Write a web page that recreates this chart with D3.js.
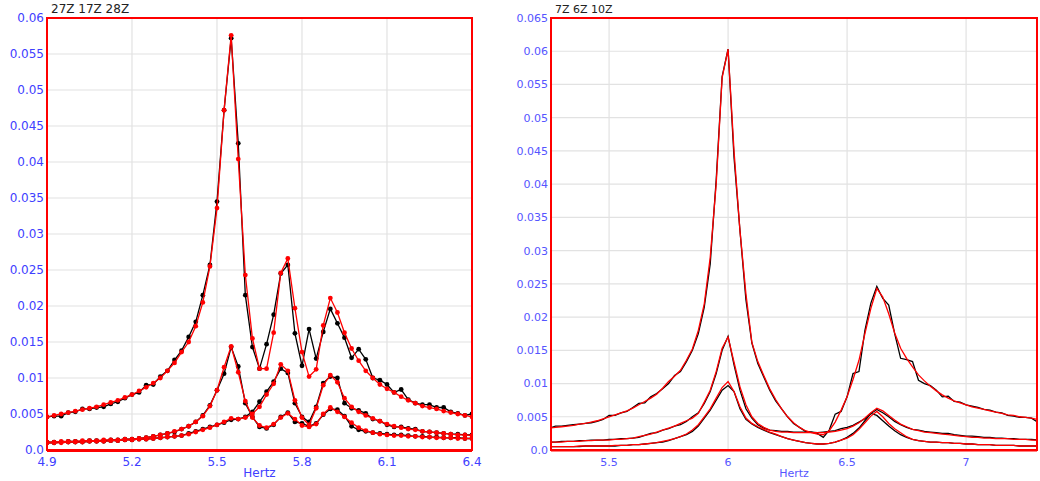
<!DOCTYPE html>
<meta charset="utf-8">
<head>
  <title>Spectra</title>
  <script src="https://d3js.org/d3.v7.min.js"></script>
  <style>
    body { margin: 0; background: #fff; }
    .grid line { stroke: #e2e2e2; stroke-width: 1.2px; }
    .tick-label { fill: #4040ff; font-family: "DejaVu Sans", sans-serif; }
    .title { fill: #222; font-family: "DejaVu Sans", sans-serif; }
  </style>
</head>
<body>
<div id="chart"></div>
<script>

// ---------- left panel: 27Z 17Z 28Z ----------
var freqL = [4.9, 4.925, 4.95, 4.975, 5.0, 5.025, 5.05, 5.075, 5.1, 5.125,
  5.15, 5.175, 5.2, 5.225, 5.25, 5.275, 5.3, 5.325, 5.35, 5.375,
  5.4, 5.425, 5.45, 5.475, 5.5, 5.525, 5.55, 5.575, 5.6, 5.625,
  5.65, 5.675, 5.7, 5.725, 5.75, 5.775, 5.8, 5.825, 5.85, 5.875,
  5.9, 5.925, 5.95, 5.975, 6.0, 6.025, 6.05, 6.075, 6.1, 6.125,
  6.15, 6.175, 6.2, 6.225, 6.25, 6.275, 6.3, 6.325, 6.35, 6.375, 6.4];

var aBlackL = [0.0046, 0.0047, 0.0047, 0.0052, 0.0053, 0.0057, 0.0057, 0.0059, 0.0060, 0.0064,
  0.0067, 0.0072, 0.0077, 0.0080, 0.0090, 0.0091, 0.0102, 0.0110, 0.0125, 0.0138,
  0.0157, 0.0178, 0.0215, 0.0257, 0.0345, 0.0472, 0.0572, 0.0426, 0.0215, 0.0143,
  0.0113, 0.0147, 0.0188, 0.0245, 0.0257, 0.0162, 0.0117, 0.0168, 0.0127, 0.0164,
  0.0196, 0.0176, 0.0156, 0.0128, 0.0140, 0.0126, 0.0100, 0.0097, 0.0091, 0.0080,
  0.0084, 0.0070, 0.0065, 0.0063, 0.0063, 0.0059, 0.0059, 0.0053, 0.0051, 0.0048, 0.0050];
var aRedL = [0.0046, 0.0048, 0.0050, 0.0052, 0.0054, 0.0056, 0.0058, 0.0060, 0.0063, 0.0066,
  0.0069, 0.0073, 0.0077, 0.0082, 0.0087, 0.0093, 0.0100, 0.0110, 0.0121, 0.0136,
  0.0150, 0.0172, 0.0205, 0.0255, 0.0336, 0.0472, 0.0576, 0.0404, 0.0243, 0.0155,
  0.0113, 0.0113, 0.0163, 0.0246, 0.0266, 0.0197, 0.0136, 0.0102, 0.0112, 0.0173,
  0.0211, 0.0191, 0.0163, 0.0141, 0.0124, 0.0110, 0.0100, 0.0091, 0.0085, 0.0080,
  0.0074, 0.0069, 0.0065, 0.0061, 0.0059, 0.0057, 0.0054, 0.0052, 0.0050, 0.0048, 0.0046];
var bBlackL = [0.0011, 0.0011, 0.0011, 0.0012, 0.0012, 0.0012, 0.0013, 0.0013, 0.0013, 0.0014,
  0.0014, 0.0015, 0.0015, 0.0016, 0.0017, 0.0019, 0.0021, 0.0023, 0.0025, 0.0029,
  0.0033, 0.0039, 0.0048, 0.0062, 0.0083, 0.0106, 0.0143, 0.0116, 0.0065, 0.0046,
  0.0032, 0.0030, 0.0035, 0.0046, 0.0052, 0.0039, 0.0037, 0.0033, 0.0037, 0.0049,
  0.0057, 0.0056, 0.0047, 0.0033, 0.0028, 0.0026, 0.0024, 0.0023, 0.0022, 0.0021,
  0.0021, 0.0020, 0.0019, 0.0019, 0.0018, 0.0018, 0.0017, 0.0017, 0.0017, 0.0016, 0.0016];
var bRedL = [0.0011, 0.0011, 0.0012, 0.0012, 0.0012, 0.0013, 0.0013, 0.0013, 0.0014, 0.0014,
  0.0014, 0.0015, 0.0015, 0.0016, 0.0017, 0.0019, 0.0021, 0.0023, 0.0026, 0.0029,
  0.0033, 0.0039, 0.0047, 0.0061, 0.0083, 0.0115, 0.0144, 0.0108, 0.0068, 0.0045,
  0.0034, 0.0031, 0.0036, 0.0045, 0.0051, 0.0043, 0.0034, 0.0032, 0.0036, 0.0050,
  0.0059, 0.0053, 0.0046, 0.0038, 0.0031, 0.0027, 0.0024, 0.0022, 0.0021, 0.0020,
  0.0020, 0.0019, 0.0019, 0.0018, 0.0018, 0.0017, 0.0017, 0.0017, 0.0016, 0.0016, 0.0016];
var cBlackL = [0.0010, 0.0010, 0.0011, 0.0011, 0.0011, 0.0011, 0.0012, 0.0012, 0.0012, 0.0013,
  0.0013, 0.0014, 0.0014, 0.0015, 0.0015, 0.0016, 0.0017, 0.0018, 0.0019, 0.0020,
  0.0023, 0.0026, 0.0029, 0.0032, 0.0035, 0.0038, 0.0042, 0.0043, 0.0046, 0.0053,
  0.0067, 0.0081, 0.0095, 0.0113, 0.0107, 0.0065, 0.0046, 0.0039, 0.0060, 0.0093,
  0.0102, 0.0100, 0.0065, 0.0058, 0.0055, 0.0051, 0.0043, 0.0040, 0.0035, 0.0032,
  0.0032, 0.0030, 0.0029, 0.0026, 0.0025, 0.0024, 0.0023, 0.0022, 0.0022, 0.0021, 0.0021];
var cRedL = [0.0010, 0.0010, 0.0010, 0.0011, 0.0011, 0.0011, 0.0012, 0.0012, 0.0012, 0.0013,
  0.0013, 0.0014, 0.0014, 0.0015, 0.0015, 0.0016, 0.0017, 0.0018, 0.0019, 0.0020,
  0.0022, 0.0025, 0.0028, 0.0031, 0.0035, 0.0039, 0.0044, 0.0043, 0.0045, 0.0050,
  0.0060, 0.0077, 0.0092, 0.0119, 0.0110, 0.0069, 0.0045, 0.0035, 0.0058, 0.0090,
  0.0104, 0.0094, 0.0072, 0.0060, 0.0053, 0.0048, 0.0044, 0.0040, 0.0036, 0.0033,
  0.0031, 0.0029, 0.0028, 0.0026, 0.0025, 0.0024, 0.0023, 0.0022, 0.0021, 0.0021, 0.0020];

var yTicksL = [0, 0.005, 0.01, 0.015, 0.02, 0.025, 0.03, 0.035, 0.04, 0.045, 0.05, 0.055, 0.06];
var xTicksL = [4.9, 5.2, 5.5, 5.8, 6.1, 6.4];

// ---------- right panel: 7Z 6Z 10Z ----------
var freqR = [5.25, 5.275, 5.3, 5.325, 5.35, 5.375, 5.4, 5.425, 5.45, 5.475,
  5.5, 5.525, 5.55, 5.575, 5.6, 5.625, 5.65, 5.675, 5.7, 5.725,
  5.75, 5.775, 5.8, 5.825, 5.85, 5.875, 5.9, 5.925, 5.95, 5.975,
  6.0, 6.025, 6.05, 6.075, 6.1, 6.125, 6.15, 6.175, 6.2, 6.225,
  6.25, 6.275, 6.3, 6.325, 6.35, 6.375, 6.4, 6.425, 6.45, 6.475,
  6.5, 6.525, 6.55, 6.575, 6.6, 6.625, 6.65, 6.675, 6.7, 6.725,
  6.75, 6.775, 6.8, 6.825, 6.85, 6.875, 6.9, 6.925, 6.95, 6.975,
  7.0, 7.025, 7.05, 7.075, 7.1, 7.125, 7.15, 7.175, 7.2, 7.225,
  7.25, 7.275, 7.3];

var dBlackR = [0.0033, 0.0036, 0.0036, 0.0037, 0.0038, 0.0039, 0.0040, 0.0041, 0.0043, 0.0046,
  0.0052, 0.0052, 0.0056, 0.0058, 0.0064, 0.0070, 0.0071, 0.0080, 0.0085, 0.0092,
  0.0100, 0.0112, 0.0118, 0.0133, 0.0150, 0.0175, 0.0215, 0.0280, 0.0406, 0.0562,
  0.0603, 0.0440, 0.0330, 0.0226, 0.0161, 0.0130, 0.0110, 0.0090, 0.0074, 0.0062,
  0.0050, 0.0040, 0.0034, 0.0028, 0.0027, 0.0025, 0.0019, 0.0030, 0.0054, 0.0058,
  0.0080, 0.0115, 0.0118, 0.0180, 0.0221, 0.0246, 0.0228, 0.0218, 0.0175, 0.0138,
  0.0136, 0.0133, 0.0105, 0.0100, 0.0097, 0.0090, 0.0080, 0.0081, 0.0073, 0.0072,
  0.0068, 0.0066, 0.0064, 0.0061, 0.0060, 0.0057, 0.0056, 0.0052, 0.0051, 0.0049,
  0.0049, 0.0048, 0.0042];
var dRedR = [0.0033, 0.0034, 0.0035, 0.0036, 0.0037, 0.0039, 0.0040, 0.0042, 0.0044, 0.0047,
  0.0050, 0.0053, 0.0056, 0.0059, 0.0063, 0.0068, 0.0073, 0.0078, 0.0084, 0.0093,
  0.0103, 0.0111, 0.0120, 0.0135, 0.0152, 0.0180, 0.0220, 0.0290, 0.0400, 0.0560,
  0.0603, 0.0450, 0.0330, 0.0235, 0.0162, 0.0133, 0.0112, 0.0092, 0.0076, 0.0062,
  0.0050, 0.0041, 0.0034, 0.0029, 0.0026, 0.0024, 0.0023, 0.0029, 0.0042, 0.0060,
  0.0080, 0.0106, 0.0135, 0.0175, 0.0213, 0.0243, 0.0230, 0.0205, 0.0176, 0.0153,
  0.0138, 0.0125, 0.0113, 0.0104, 0.0096, 0.0089, 0.0083, 0.0078, 0.0074, 0.0071,
  0.0068, 0.0065, 0.0063, 0.0061, 0.0059, 0.0057, 0.0055, 0.0053, 0.0052, 0.0050,
  0.0049, 0.0048, 0.0046];
var eBlackR = [0.0012, 0.0012, 0.0013, 0.0013, 0.0013, 0.0014, 0.0014, 0.0015, 0.0015, 0.0015,
  0.0016, 0.0016, 0.0017, 0.0017, 0.0018, 0.0019, 0.0022, 0.0025, 0.0026, 0.0030,
  0.0032, 0.0036, 0.0038, 0.0043, 0.0050, 0.0056, 0.0070, 0.0088, 0.0115, 0.0150,
  0.0171, 0.0128, 0.0090, 0.0062, 0.0048, 0.0038, 0.0033, 0.0030, 0.0029, 0.0028,
  0.0028, 0.0027, 0.0027, 0.0027, 0.0027, 0.0026, 0.0027, 0.0028, 0.0029, 0.0032,
  0.0034, 0.0037, 0.0042, 0.0047, 0.0055, 0.0061, 0.0056, 0.0050, 0.0043, 0.0038,
  0.0034, 0.0031, 0.0030, 0.0028, 0.0027, 0.0026, 0.0025, 0.0025, 0.0023, 0.0022,
  0.0021, 0.0021, 0.0020, 0.0019, 0.0019, 0.0018, 0.0018, 0.0017, 0.0017, 0.0016,
  0.0016, 0.0016, 0.0015];
var eRedR = [0.0012, 0.0012, 0.0012, 0.0013, 0.0013, 0.0013, 0.0014, 0.0014, 0.0015, 0.0015,
  0.0015, 0.0016, 0.0016, 0.0017, 0.0018, 0.0020, 0.0022, 0.0024, 0.0027, 0.0030,
  0.0033, 0.0036, 0.0040, 0.0044, 0.0048, 0.0055, 0.0072, 0.0090, 0.0118, 0.0153,
  0.0170, 0.0132, 0.0095, 0.0068, 0.0050, 0.0040, 0.0034, 0.0030, 0.0028, 0.0027,
  0.0027, 0.0026, 0.0026, 0.0026, 0.0026, 0.0026, 0.0026, 0.0027, 0.0028, 0.0030,
  0.0032, 0.0036, 0.0041, 0.0048, 0.0056, 0.0063, 0.0059, 0.0052, 0.0045, 0.0039,
  0.0035, 0.0031, 0.0029, 0.0027, 0.0026, 0.0025, 0.0024, 0.0023, 0.0022, 0.0021,
  0.0020, 0.0019, 0.0019, 0.0018, 0.0018, 0.0017, 0.0017, 0.0017, 0.0016, 0.0016,
  0.0016, 0.0015, 0.0015];
var fBlackR = [0.0005, 0.0005, 0.0005, 0.0005, 0.0005, 0.0005, 0.0006, 0.0006, 0.0006, 0.0006,
  0.0006, 0.0006, 0.0007, 0.0007, 0.0008, 0.0008, 0.0009, 0.0010, 0.0011, 0.0012,
  0.0014, 0.0017, 0.0020, 0.0023, 0.0028, 0.0036, 0.0048, 0.0060, 0.0075, 0.0090,
  0.0097, 0.0088, 0.0062, 0.0046, 0.0039, 0.0034, 0.0030, 0.0026, 0.0023, 0.0020,
  0.0017, 0.0015, 0.0013, 0.0011, 0.0010, 0.0009, 0.0009, 0.0010, 0.0012, 0.0015,
  0.0019, 0.0025, 0.0033, 0.0044, 0.0055, 0.0052, 0.0044, 0.0036, 0.0029, 0.0023,
  0.0019, 0.0016, 0.0014, 0.0013, 0.0012, 0.0012, 0.0011, 0.0011, 0.0010, 0.0010,
  0.0009, 0.0009, 0.0008, 0.0008, 0.0008, 0.0007, 0.0007, 0.0007, 0.0007, 0.0006,
  0.0006, 0.0006, 0.0006];
var fRedR = [0.0005, 0.0005, 0.0005, 0.0005, 0.0005, 0.0006, 0.0006, 0.0006, 0.0006, 0.0006,
  0.0006, 0.0007, 0.0007, 0.0007, 0.0008, 0.0008, 0.0009, 0.0010, 0.0011, 0.0013,
  0.0015, 0.0017, 0.0020, 0.0024, 0.0030, 0.0038, 0.0050, 0.0062, 0.0078, 0.0094,
  0.0103, 0.0088, 0.0065, 0.0048, 0.0040, 0.0035, 0.0031, 0.0027, 0.0024, 0.0020,
  0.0017, 0.0015, 0.0013, 0.0011, 0.0010, 0.0009, 0.0009, 0.0010, 0.0012, 0.0015,
  0.0018, 0.0023, 0.0031, 0.0041, 0.0051, 0.0058, 0.0050, 0.0040, 0.0032, 0.0026,
  0.0020, 0.0016, 0.0014, 0.0013, 0.0012, 0.0012, 0.0011, 0.0011, 0.0010, 0.0010,
  0.0009, 0.0009, 0.0008, 0.0008, 0.0008, 0.0007, 0.0007, 0.0007, 0.0007, 0.0006,
  0.0006, 0.0006, 0.0006];

var yTicksR = [0, 0.005, 0.01, 0.015, 0.02, 0.025, 0.03, 0.035, 0.04, 0.045, 0.05, 0.055, 0.06, 0.065];
var xTicksR = [5.5, 6, 6.5, 7];

var svg = d3.select("#chart").append("svg")
    .attr("width", 1040)
    .attr("height", 481);

function fmtY(d) { return d === 0 ? "0.0" : String(+d.toFixed(3)); }

function drawPanel(p) {
  var x = d3.scaleLinear().domain(p.xDomain).range([p.left, p.right]);
  var y = d3.scaleLinear().domain(p.yDomain).range([p.bottom, p.top]);
  var g = svg.append("g");

  g.append("defs").append("clipPath").attr("id", p.id)
    .append("rect")
      .attr("x", p.left).attr("y", p.top - 4)
      .attr("width", p.right - p.left).attr("height", p.bottom - p.top + 4);

  var grid = g.append("g").attr("class", "grid");
  grid.selectAll("line.h").data(p.yTicks).enter().append("line")
      .attr("x1", p.left).attr("x2", p.right)
      .attr("y1", function(d) { return y(d); }).attr("y2", function(d) { return y(d); });
  grid.selectAll("line.v").data(p.xTicks).enter().append("line")
      .attr("y1", p.top).attr("y2", p.bottom)
      .attr("x1", function(d) { return x(d); }).attr("x2", function(d) { return x(d); });

  // y tick labels
  g.selectAll("text.yl").data(p.yTicks).enter().append("text")
      .attr("class", "tick-label")
      .attr("x", p.left - 3)
      .attr("y", function(d) { return y(d) + p.fs * 0.36; })
      .attr("text-anchor", "end")
      .style("font-size", p.fs + "px")
      .style("fill", p.labelColor)
      .text(fmtY);

  // x tick labels
  g.selectAll("text.xl").data(p.xTicks).enter().append("text")
      .attr("class", "tick-label")
      .attr("x", function(d) { return x(d); })
      .attr("y", p.bottom + 16)
      .attr("text-anchor", "middle")
      .style("font-size", p.fs + "px")
      .style("fill", p.labelColor)
      .text(function(d) { return String(d); });

  g.append("text")
      .attr("class", "tick-label")
      .attr("x", (p.left + p.right) / 2)
      .attr("y", p.bottom + 27)
      .attr("text-anchor", "middle")
      .style("font-size", p.fs + "px")
      .style("fill", p.labelColor)
      .text("Hertz");

  g.append("text")
      .attr("class", "title")
      .attr("x", p.left + 4)
      .attr("y", p.top - 5)
      .style("font-size", p.fs + "px")
      .text(p.title);

  var line = d3.line()
      .x(function(d) { return x(d[0]); })
      .y(function(d) { return y(d[1]); });

  var plot = g.append("g").attr("clip-path", "url(#" + p.id + ")");
  p.series.forEach(function(s) {
    var pts = p.freq.map(function(f, i) { return [f, s.values[i]]; });
    plot.append("path")
        .attr("d", line(pts))
        .attr("fill", "none")
        .attr("stroke", s.color)
        .attr("stroke-width", p.lineWidth);
    if (p.markers) {
      plot.selectAll(null).data(pts).enter().append("circle")
          .attr("cx", function(d) { return x(d[0]); })
          .attr("cy", function(d) { return y(d[1]); })
          .attr("r", 2.4)
          .attr("fill", s.color);
    }
  });

  // red frame
  g.append("rect")
      .attr("x", p.left).attr("y", p.top)
      .attr("width", p.right - p.left).attr("height", p.bottom - p.top)
      .attr("fill", "none")
      .attr("stroke", "#ff0000")
      .attr("stroke-width", 2);
  g.append("line")
      .attr("x1", p.left).attr("x2", p.right)
      .attr("y1", p.bottom + 0.5).attr("y2", p.bottom + 0.5)
      .attr("stroke", "#ff0000")
      .attr("stroke-width", p.bottomWidth);
}

drawPanel({
  id: "clipL", title: "27Z 17Z 28Z",
  left: 47, right: 472, top: 18, bottom: 450,
  xDomain: [4.9, 6.4], yDomain: [0, 0.06],
  xTicks: xTicksL, yTicks: yTicksL, freq: freqL,
  fs: 12, labelColor: "#4040ff", lineWidth: 1.3, markers: true, bottomWidth: 3,
  series: [
    {values: aBlackL, color: "#000"}, {values: bBlackL, color: "#000"}, {values: cBlackL, color: "#000"},
    {values: aRedL, color: "#ff0000"}, {values: bRedL, color: "#ff0000"}, {values: cRedL, color: "#ff0000"}
  ]
});

drawPanel({
  id: "clipR", title: "7Z 6Z 10Z",
  left: 551, right: 1037, top: 18, bottom: 450,
  xDomain: [5.256, 7.298], yDomain: [0, 0.065],
  xTicks: xTicksR, yTicks: yTicksR, freq: freqR,
  fs: 11, labelColor: "#5555ff", lineWidth: 1.3, markers: false, bottomWidth: 2,
  series: [
    {values: dBlackR, color: "#000"}, {values: eBlackR, color: "#000"}, {values: fBlackR, color: "#000"},
    {values: dRedR, color: "#ff0000"}, {values: eRedR, color: "#ff0000"}, {values: fRedR, color: "#ff0000"}
  ]
});

</script>
</body>
